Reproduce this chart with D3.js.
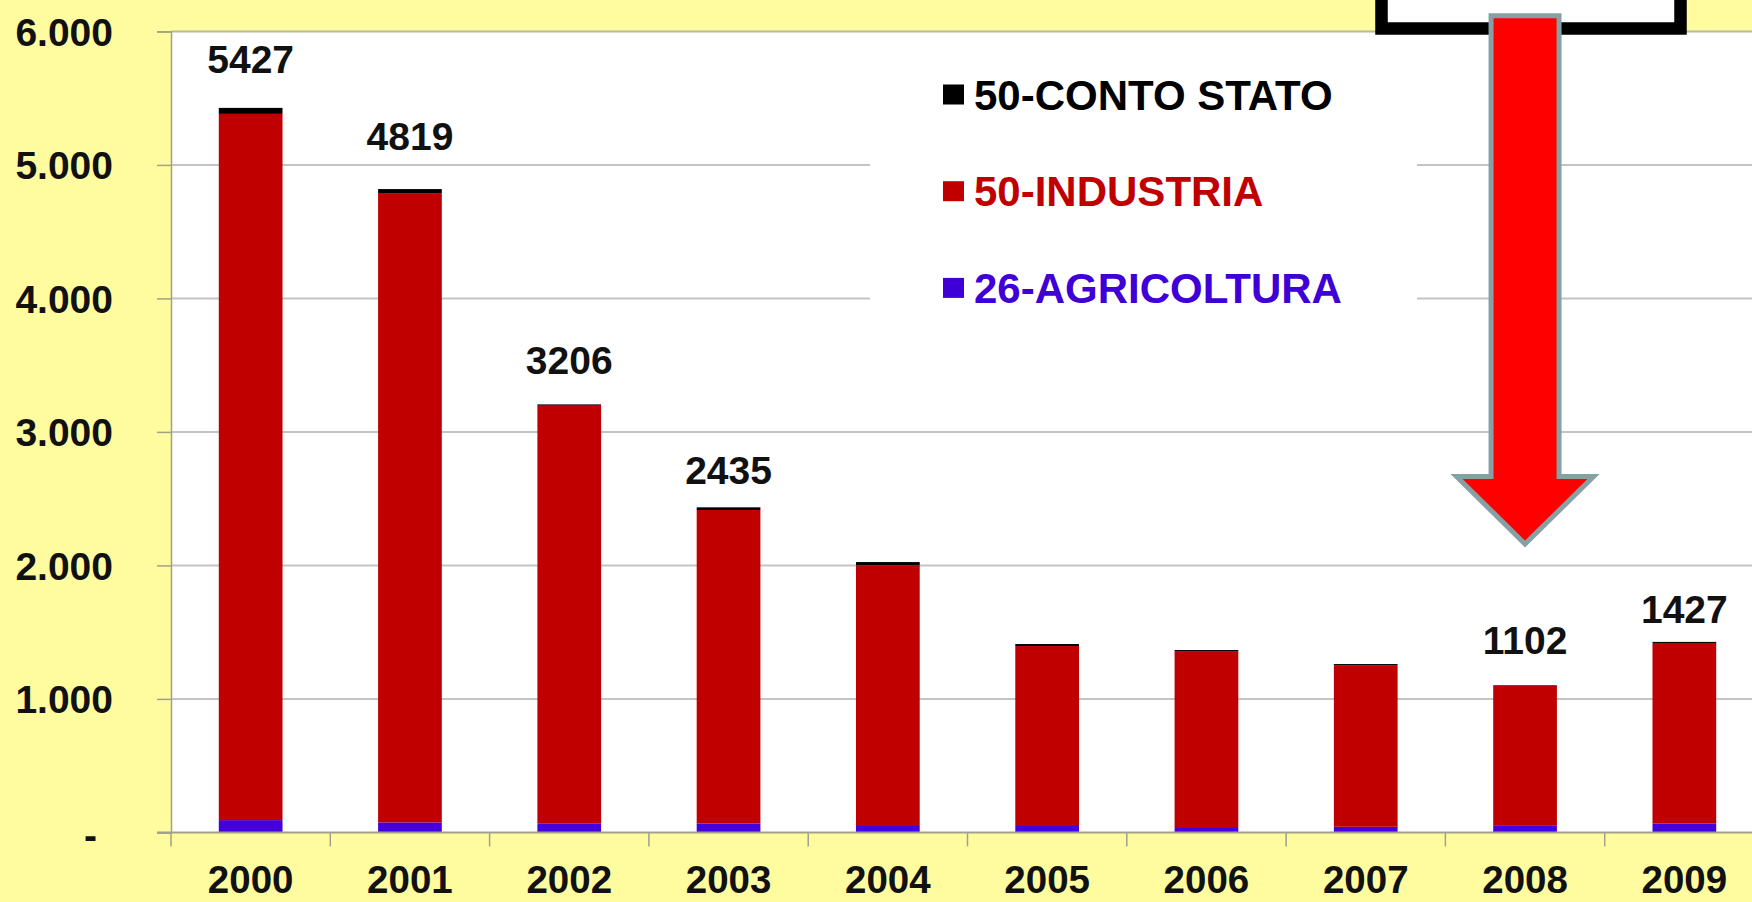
<!DOCTYPE html>
<html>
<head>
<meta charset="utf-8">
<script src="https://cdn.jsdelivr.net/npm/d3@7"></script>
<style>
body { margin: 0; background: #fffc9f; overflow: hidden; }
text { font-family: "Liberation Sans", Arial, sans-serif; font-weight: bold; }
</style>
</head>
<body>
<div id="chart"></div>
<script>
var years = ["2000", "2001", "2002", "2003", "2004", "2005", "2006", "2007", "2008", "2009"];
var agricoltura = [92, 75, 68, 67, 55, 55, 40, 42, 49, 67];
var industria = [5290, 4714, 3128, 2348, 1945, 1341, 1314, 1211, 1048, 1352];
var contoStato = [45, 30, 10, 20, 25, 15, 12, 8, 5, 8];
var yTicks = [0, 1000, 2000, 3000, 4000, 5000, 6000];
var labelYears = ["2000", "2001", "2002", "2003", "2008", "2009"];
var labelLift = [49, 53, 44, 37, 45, 33];
var legendNames = ["50-CONTO STATO", "50-INDUSTRIA", "26-AGRICOLTURA"];
var legendColors = ["#000000", "#c00000", "#3f00d8"];

var W = 1752, H = 902;
var plotLeft = 171, plotTop = 31.4, plotBottom = 832.4, step = 159.3;

var svg = d3.select("#chart").append("svg")
    .attr("width", W)
    .attr("height", H);

svg.append("rect").attr("width", W).attr("height", H).attr("fill", "#fffc9f");

var x = d3.scaleBand()
    .domain(years)
    .range([plotLeft, plotLeft + step * years.length])
    .paddingInner(0.6)
    .paddingOuter(0.3);

var y = d3.scaleLinear()
    .domain([0, 6000])
    .range([plotBottom, plotTop]);

// plot area
svg.append("rect")
    .attr("x", plotLeft).attr("y", plotTop)
    .attr("width", W - plotLeft).attr("height", plotBottom - plotTop)
    .attr("fill", "#ffffff");

// grid
svg.append("g").selectAll("line")
    .data(yTicks.filter(function(d){ return d > 0; }))
    .enter().append("line")
    .attr("x1", plotLeft).attr("x2", W)
    .attr("y1", function(d){ return y(d); })
    .attr("y2", function(d){ return y(d); })
    .style("stroke", function(d){ return d === 6000 ? "#b8b89a" : "#c4c4c4"; })
    .style("stroke-width", 2);

// legend box (white, hides grid)
svg.append("rect")
    .attr("x", 870).attr("y", 50)
    .attr("width", 547).attr("height", 280)
    .attr("fill", "#ffffff");

var leg = svg.append("g").selectAll("g")
    .data(legendNames)
    .enter().append("g")
    .attr("transform", function(d, i){ return "translate(943," + (94.5 + i * 96.7) + ")"; });

leg.append("rect")
    .attr("x", 0).attr("y", -10)
    .attr("width", 21).attr("height", 20)
    .attr("fill", function(d, i){ return legendColors[i]; });

leg.append("text")
    .attr("x", 31).attr("y", 15)
    .style("font-size", "42px")
    .style("fill", function(d, i){ return legendColors[i]; })
    .text(function(d){ return d; });

// stacked bars
var table = years.map(function(yr, i){
    return { year: yr, agri: agricoltura[i], ind: industria[i], stato: contoStato[i] };
});
var stack = d3.stack().keys(["agri", "ind", "stato"])(table);
var barColors = { agri: "#4400dd", ind: "#c00000", stato: "#000000" };

svg.append("g").selectAll("g")
    .data(stack)
    .enter().append("g")
    .style("fill", function(s){ return barColors[s.key]; })
    .selectAll("rect")
    .data(function(s){ return s; })
    .enter().append("rect")
    .attr("x", function(d){ return x(d.data.year); })
    .attr("width", x.bandwidth())
    .attr("y", function(d){ return y(d[1]); })
    .attr("height", function(d){ return y(d[0]) - y(d[1]); });

// total labels
svg.append("g").selectAll("text")
    .data(labelYears)
    .enter().append("text")
    .attr("x", function(d){ return x(d) + x.bandwidth() / 2; })
    .attr("y", function(d, i){
        var k = years.indexOf(d);
        var tot = agricoltura[k] + industria[k] + contoStato[k];
        return y(tot) - labelLift[i] + 14;
    })
    .style("text-anchor", "middle")
    .style("font-size", "39px")
    .style("fill", "#111")
    .text(function(d){
        var k = years.indexOf(d);
        return agricoltura[k] + industria[k] + contoStato[k];
    });

// y axis
var yAxis = d3.axisLeft(y)
    .tickValues(yTicks)
    .tickSize(14)
    .tickPadding(44)
    .tickFormat(function(d){ return d === 0 ? "-" : d3.format(",")(d).replace(/,/g, "."); });

var gy = svg.append("g")
    .attr("transform", "translate(" + plotLeft + ",0)")
    .call(yAxis);
gy.select(".domain").style("stroke", "#a0a08c").style("stroke-width", 1.5);
gy.selectAll(".tick line").style("stroke", "#a0a08c").style("stroke-width", 1.5);
gy.selectAll(".tick text")
    .style("font-size", "39px")
    .style("font-family", "'Liberation Sans', Arial, sans-serif")
    .style("font-weight", "bold")
    .style("fill", "#111")
    .attr("dy", "0.36em");
gy.selectAll(".tick").filter(function(d){ return d === 0; }).select("text")
    .attr("dx", -16).attr("dy", "0.42em");

// x axis
var gx = svg.append("g")
    .attr("transform", "translate(0," + plotBottom + ")");
gx.append("line")
    .attr("x1", plotLeft - 14).attr("x2", W)
    .style("stroke", "#a0a08c").style("stroke-width", 2);
gx.selectAll(".tk")
    .data(d3.range(years.length + 1))
    .enter().append("line")
    .attr("class", "tk")
    .attr("x1", function(i){ return plotLeft + i * x.step(); })
    .attr("x2", function(i){ return plotLeft + i * x.step(); })
    .attr("y1", 0).attr("y2", 14)
    .style("stroke", "#a0a08c").style("stroke-width", 1.5);
gx.selectAll("text")
    .data(years)
    .enter().append("text")
    .attr("x", function(d){ return x(d) + x.bandwidth() / 2; })
    .attr("y", 61)
    .style("text-anchor", "middle")
    .style("font-size", "38.5px")
    .style("fill", "#111")
    .text(function(d){ return d; });

// annotation: box and arrow pointing at 2008
svg.append("rect")
    .attr("x", 1381.5).attr("y", -60)
    .attr("width", 299).attr("height", 88.5)
    .attr("fill", "#ffffff")
    .style("stroke", "#000").style("stroke-width", 12.5);

var cx = x("2008") + x.bandwidth() / 2;
var shaftTop = 15.8, shoulder = 476.5, tip = 544;
var arrow = [
    [cx - 34, shaftTop], [cx + 34, shaftTop], [cx + 34, shoulder], [cx + 68.5, shoulder],
    [cx, tip], [cx - 68.5, shoulder], [cx - 34, shoulder]
];
svg.append("path")
    .attr("d", d3.line()(arrow) + "Z")
    .attr("fill", "#ff0000")
    .style("stroke", "#87a0a3")
    .style("stroke-width", 5)
    .style("stroke-linejoin", "miter");
</script>
</body>
</html>
